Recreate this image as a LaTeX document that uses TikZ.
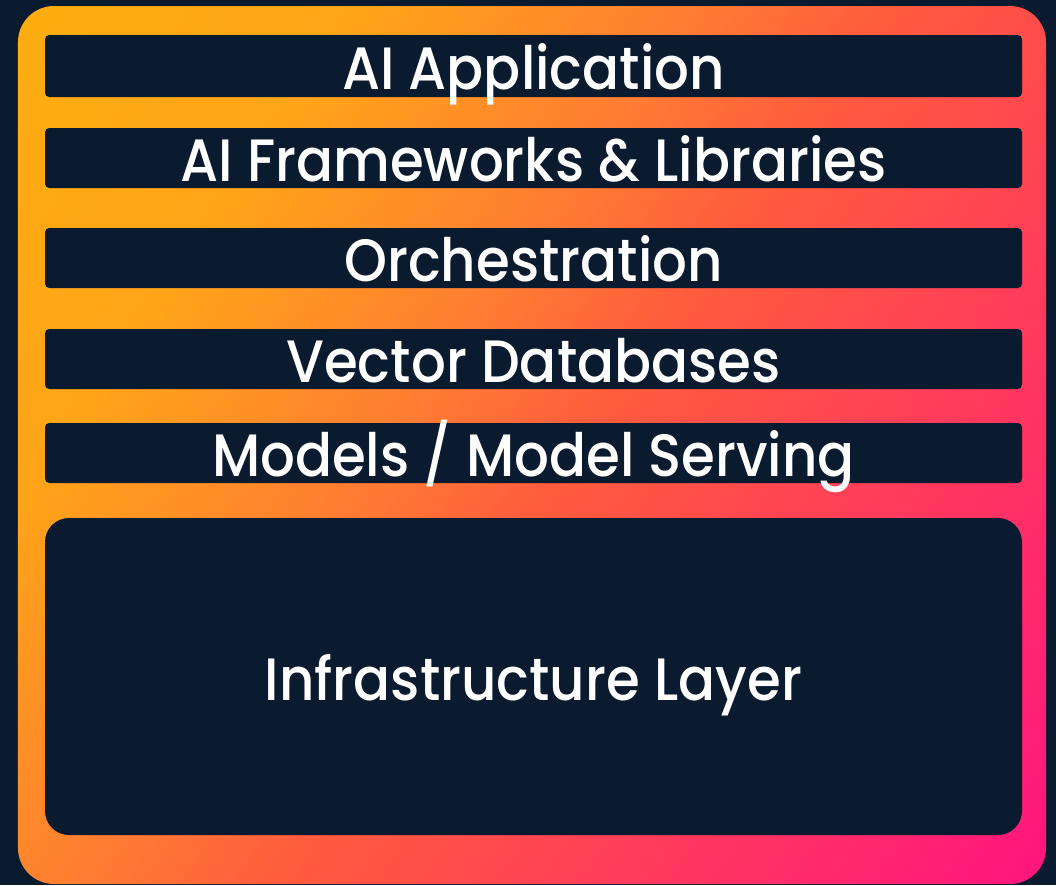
\documentclass[tikz,border=0pt]{standalone}
\usepackage{fontspec}
\setmainfont{Poppins}[UprightFont=* Medium, FakeStretch=0.915]
\usetikzlibrary{positioning}
\definecolor{navy}{HTML}{0A1A2F}
\definecolor{glowA}{HTML}{FFAD10}
\definecolor{glowB}{HTML}{FFA418}
\definecolor{glowC}{HTML}{FF7C33}
\definecolor{glowD}{HTML}{FF5C3D}
\definecolor{glowE}{HTML}{FF1480}
\pgfdeclarehorizontalshading{stackglow}{100bp}{color(0bp)=(glowA); color(15bp)=(glowA);
  color(30bp)=(glowB); color(44bp)=(glowC); color(52bp)=(glowD); color(85bp)=(glowE); color(100bp)=(glowE)}
\tikzset{layer/.style={fill=navy, text=white, rounded corners=1.2pt, inner sep=0pt,
    minimum width=9.77cm, minimum height=0.6cm, text height=13.6pt, text depth=0pt,
    font=\fontsize{17}{20}\selectfont},
  base/.style={layer, rounded corners=0.24cm, minimum height=3.17cm}}

\begin{document}
\begin{tikzpicture}
  \useasboundingbox (0,0) rectangle (10.56,-8.85);
  \fill[navy] (0,0) rectangle (10.56,-8.85);
  \shade[shading=stackglow, shading angle=-35, rounded corners=0.36cm] (0.18,-0.06) rectangle (10.46,-8.84);
  \node[layer, minimum height=0.62cm] (app) at (5.335,-0.66) {AI Application};
  \node[layer] (frame) at (5.335,-1.58) {AI Frameworks \& Libraries};
  \node[layer] (orch) at (5.335,-2.58) {Orchestration};
  \node[layer] (vecdb) at (5.335,-3.59) {Vector Databases};
  \node[layer] (serve) at (5.335,-4.53) {Models / Model Serving};
  \node[base] (infra) at (5.335,-6.765) {Infrastructure Layer};
\end{tikzpicture}
\end{document}
